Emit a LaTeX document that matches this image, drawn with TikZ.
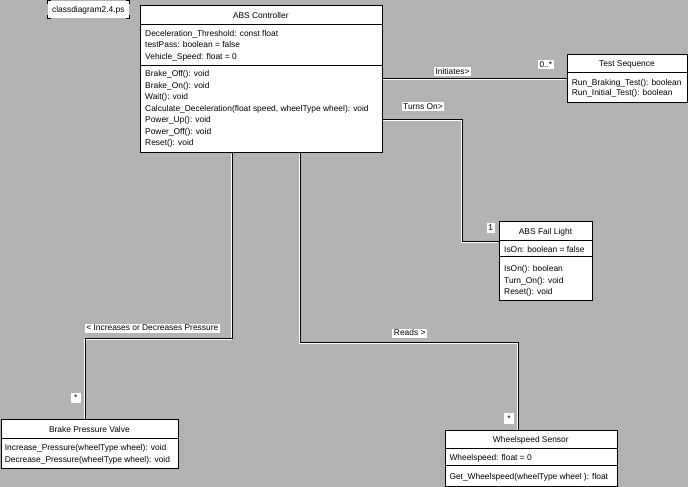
\documentclass[tikz,border=0pt]{standalone}
\usepackage{fontspec}
\setmainfont{Liberation Sans}
\definecolor{bggray}{RGB}{179,179,179}
\newcommand\dfont{\fontsize{8.4}{10}\selectfont}
\pgfdeclarelayer{bg}
\pgfsetlayers{bg,main}
\tikzset{
  cls/.style={draw=black, fill=white, line width=1pt, inner sep=0pt, anchor=north west},
  txt/.style={inner sep=0pt, anchor=base west, font=\dfont},
  ttl/.style={inner sep=0pt, anchor=base, font=\dfont},
  conn/.style={draw=black, line width=1pt},
  hl/.style={draw=white, line width=1pt, transform canvas={shift={(-1pt,-1pt)}}},
  lbl/.style={fill=white, inner xsep=1.5pt, inner ysep=1pt, font=\dfont, text height=6pt, text depth=1pt},
  sep/.style={draw=black, line width=1pt}
}
\begin{document}
\begin{tikzpicture}[x=1pt,y=-1pt]
\begin{pgfonlayer}{bg}
\fill[bggray] (0,0) rectangle (688,487);
\end{pgfonlayer}
\useasboundingbox (0,0) rectangle (688,487);

% file name tag
\node[fill=white, inner sep=0pt, minimum width=81.3pt, minimum height=17pt, anchor=north west] (fn) at (47.7,1) {};
\node[ttl] (fnt) at (88.3,13) {classdiagram2.4.ps};
\draw[line width=1pt] ([yshift=-3pt]fn.north west) |- ([xshift=3pt]fn.north west);
\draw[line width=1pt] ([yshift=-3pt]fn.north east) |- ([xshift=-3pt]fn.north east);
\draw[line width=1pt] ([yshift=3pt]fn.south west) |- ([xshift=3pt]fn.south west);
\draw[line width=1pt] ([yshift=3pt]fn.south east) |- ([xshift=-3pt]fn.south east);

% ABS Controller
\node[cls, minimum width=241.7pt, minimum height=146.7pt] (abs) at (140,5) {};
\draw[sep] (abs.west |- 0,24.3) -- (abs.east |- 0,24.3);
\draw[sep] (abs.west |- 0,65.7) -- (abs.east |- 0,65.7);
\node[ttl] (absT) at (260.8,18.3) {ABS Controller};
\node[txt] (absA1) at (145,36.5) {Deceleration\_Threshold: const float};
\node[txt] (absA2) at (145,47.9) {testPass: boolean = false};
\node[txt] (absA3) at (145,59.3) {Vehicle\_Speed: float = 0};
\node[txt] (absO1) at (145,77.0) {Brake\_Off(): void};
\node[txt] (absO2) at (145,88.4) {Brake\_On(): void};
\node[txt] (absO3) at (145,99.8) {Wait(): void};
\node[txt] (absO4) at (145,111.2) {Calculate\_Deceleration(float speed, wheelType wheel): void};
\node[txt] (absO5) at (145,122.6) {Power\_Up(): void};
\node[txt] (absO6) at (145,134.0) {Power\_Off(): void};
\node[txt] (absO7) at (145,145.4) {Reset(): void};

% Test Sequence
\node[cls, minimum width=119.4pt, minimum height=48pt] (test) at (567.3,54.3) {};
\draw[sep] (test.west |- 0,72.3) -- (test.east |- 0,72.3);
\node[ttl] (testT) at (627,66.3) {Test Sequence};
\node[txt] (testO1) at (571.7,85.7) {Run\_Braking\_Test(): boolean};
\node[txt] (testO2) at (571.7,95.7) {Run\_Initial\_Test(): boolean};

% ABS Fail Light
\node[cls, minimum width=92.4pt, minimum height=79pt] (fail) at (499.3,221) {};
\draw[sep] (fail.west |- 0,240.7) -- (fail.east |- 0,240.7);
\draw[sep] (fail.west |- 0,256.7) -- (fail.east |- 0,256.7);
\node[ttl] (failT) at (545.5,234) {ABS Fail Light};
\node[txt] (failA1) at (504,252.3) {IsOn: boolean = false};
\node[txt] (failO1) at (504,271.3) {IsOn(): boolean};
\node[txt] (failO2) at (504,283) {Turn\_On(): void};
\node[txt] (failO3) at (504,294) {Reset(): void};

% Brake Pressure Valve
\node[cls, minimum width=177.8pt, minimum height=49pt] (bpv) at (0.5,419.3) {};
\draw[sep] (bpv.west |- 0,438.3) -- (bpv.east |- 0,438.3);
\node[ttl] (bpvT) at (89.4,432) {Brake Pressure Valve};
\node[txt] (bpvO1) at (4.7,450.7) {Increase\_Pressure(wheelType wheel): void};
\node[txt] (bpvO2) at (4.7,462) {Decrease\_Pressure(wheelType wheel): void};

% Wheelspeed Sensor
\node[cls, minimum width=171.7pt, minimum height=56.2pt] (ws) at (445,430) {};
\draw[sep] (ws.west |- 0,448.3) -- (ws.east |- 0,448.3);
\draw[sep] (ws.west |- 0,465) -- (ws.east |- 0,465);
\node[ttl] (wsT) at (530.8,442) {Wheelspeed Sensor};
\node[txt] (wsA1) at (449.3,460.3) {Wheelspeed: float = 0};
\node[txt] (wsO1) at (449.3,479.7) {Get\_Wheelspeed(wheelType wheel ): float};

% connector bend points
\coordinate (i1) at (0,78.3);
\coordinate (t1) at (462.5,119.3);
\coordinate (t2) at (462.5,241.7);
\coordinate (p1) at (232.5,338.3);
\coordinate (p2) at (85,338.3);
\coordinate (r1) at (300,342.7);
\coordinate (r2) at (518.3,342.7);

\begin{pgfonlayer}{bg}
\draw[hl] (abs.east |- i1) -- (test.west |- i1);
\draw[hl] (abs.east |- t1) -- (t1) -- (t2) -- (fail.west |- t2);
\draw[hl] (abs.south -| p1) -- (p1) -- (p2) -- (bpv.north -| p2);
\draw[hl] (abs.south -| r1) -- (r1) -- (r2) -- (ws.north -| r2);
\draw[conn] (abs.east |- i1) -- (test.west |- i1);
\draw[conn] (abs.east |- t1) -- (t1) -- (t2) -- (fail.west |- t2);
\draw[conn] (abs.south -| p1) -- (p1) -- (p2) -- (bpv.north -| p2);
\draw[conn] (abs.south -| r1) -- (r1) -- (r2) -- (ws.north -| r2);
\end{pgfonlayer}

% association labels
\node[lbl] (lInit) at (452.5,71.7) {Initiates>};
\node[lbl] (lMult1) at (545.8,64.7) {0..*};
\node[lbl] (lTurns) at (423,106.5) {Turns On>};
\node[lbl, minimum width=8pt, minimum height=10pt] (lOne) at (490.8,228.3) {1};
\node[lbl] (lIncr) at (152.3,328.3) {< Increases or Decreases Pressure};
\node[lbl, minimum width=9.7pt, minimum height=10pt] (lStar1) at (75.8,398) {*};
\node[lbl] (lReads) at (409.7,333.3) {Reads >};
\node[lbl, minimum width=10pt, minimum height=11pt] (lStar2) at (509,418.5) {*};
\end{tikzpicture}
\end{document}
